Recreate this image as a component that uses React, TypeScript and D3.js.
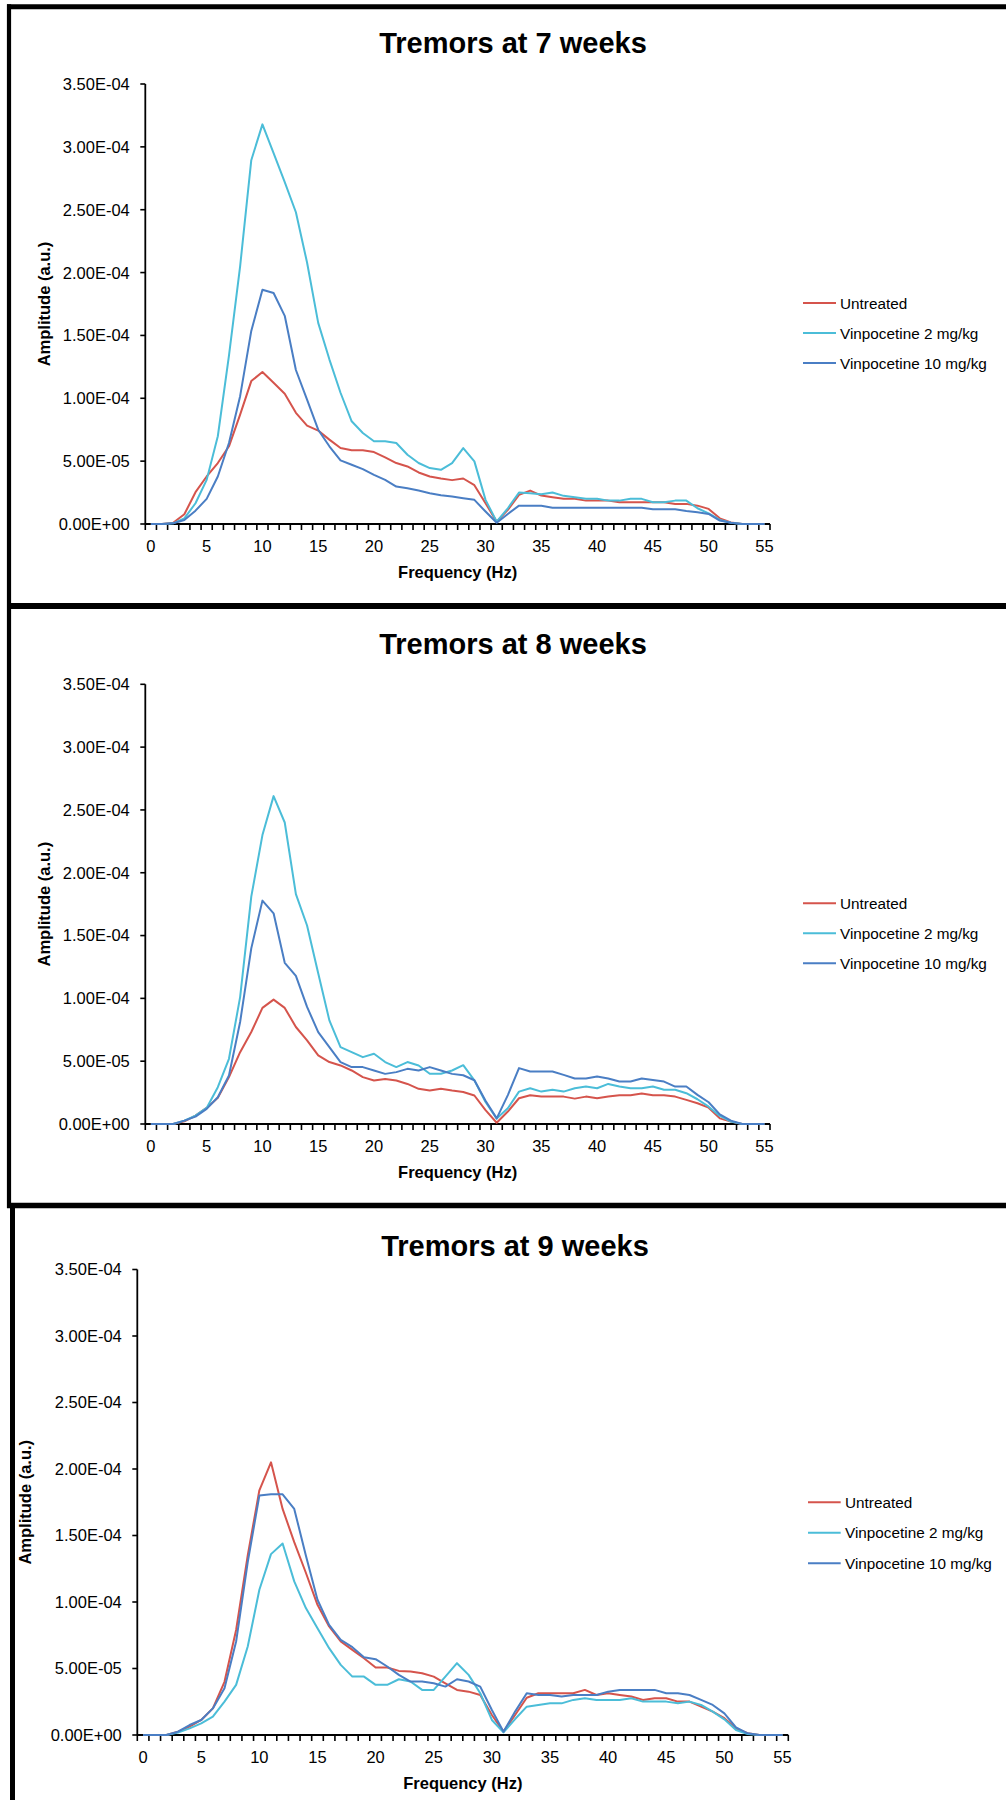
import React from "react";
import * as d3 from "d3";

// Frequencies 0..55 Hz
const freqs: number[] = d3.range(0, 56);
const yTickValues: number[] = [0, 5e-5, 1e-4, 1.5e-4, 2e-4, 2.5e-4, 3e-4, 3.5e-4];
const xLabelValues: number[] = [0, 5, 10, 15, 20, 25, 30, 35, 40, 45, 50, 55];
const seriesNames: string[] = ["Untreated", "Vinpocetine 2 mg/kg", "Vinpocetine 10 mg/kg"];
const titles: string[] = ["Tremors at 7 weeks", "Tremors at 8 weeks", "Tremors at 9 weeks"];

// values in units of 1e-5
const w7Untreated: number[] = [0, 0, 0.1, 0.77, 2.53, 3.78, 4.85, 6.18, 8.7, 11.37, 12.09, 11.24, 10.36, 8.84, 7.83, 7.43, 6.71, 6.04, 5.86, 5.86, 5.72, 5.3, 4.85, 4.58, 4.1, 3.78, 3.62, 3.49, 3.62, 3.09, 1.65, 0.19, 1.12, 2.32, 2.66, 2.26, 2.13, 2.0, 2.0, 1.86, 1.86, 1.86, 1.73, 1.73, 1.73, 1.73, 1.73, 1.6, 1.6, 1.46, 1.2, 0.45, 0.13, 0, 0, 0];
const w7Vin2: number[] = [0, 0, 0.05, 0.45, 1.65, 3.51, 6.98, 13.4, 20.5, 28.94, 31.79, 29.5, 27.2, 24.8, 20.8, 16.0, 13.1, 10.44, 8.17, 7.24, 6.58, 6.58, 6.44, 5.51, 4.85, 4.45, 4.31, 4.85, 6.04, 4.98, 1.92, 0.19, 1.25, 2.5, 2.45, 2.37, 2.5, 2.24, 2.13, 2.0, 2.0, 1.86, 1.86, 2.0, 2.0, 1.73, 1.73, 1.86, 1.86, 1.25, 0.85, 0.32, 0.1, 0, 0, 0];
const w7Vin10: number[] = [0, 0, 0.05, 0.32, 1.06, 2.0, 3.78, 6.44, 10.17, 15.36, 18.63, 18.37, 16.56, 12.25, 9.9, 7.5, 6.18, 5.06, 4.71, 4.37, 3.91, 3.51, 2.98, 2.85, 2.66, 2.45, 2.29, 2.18, 2.05, 1.92, 0.99, 0.1, 0.8, 1.46, 1.46, 1.46, 1.3, 1.3, 1.3, 1.3, 1.3, 1.3, 1.3, 1.3, 1.3, 1.17, 1.17, 1.17, 1.04, 0.93, 0.8, 0.27, 0.1, 0, 0, 0];

const w8Untreated: number[] = [0, 0, 0, 0.21, 0.67, 1.28, 2.08, 3.73, 5.72, 7.32, 9.24, 9.9, 9.24, 7.72, 6.66, 5.46, 4.93, 4.66, 4.26, 3.73, 3.46, 3.59, 3.46, 3.19, 2.8, 2.66, 2.8, 2.66, 2.55, 2.27, 1.1, 0.1, 0.99, 2.05, 2.29, 2.18, 2.18, 2.18, 2.02, 2.18, 2.05, 2.18, 2.29, 2.29, 2.42, 2.29, 2.29, 2.18, 1.92, 1.65, 1.3, 0.45, 0.19, 0, 0, 0];
const w8Vin2: number[] = [0, 0, 0, 0.27, 0.67, 1.28, 2.93, 5.19, 10.1, 18.1, 23.0, 26.1, 24.0, 18.3, 15.8, 12.0, 8.25, 6.12, 5.72, 5.32, 5.59, 4.93, 4.53, 4.93, 4.66, 4.0, 4.0, 4.26, 4.68, 3.48, 1.75, 0.43, 1.25, 2.58, 2.85, 2.58, 2.72, 2.58, 2.85, 2.98, 2.85, 3.19, 2.98, 2.85, 2.85, 2.98, 2.72, 2.72, 2.45, 1.97, 1.38, 0.64, 0.19, 0, 0, 0];
const w8Vin10: number[] = [0, 0, 0, 0.27, 0.59, 1.2, 2.13, 3.86, 8.12, 13.98, 17.78, 16.77, 12.83, 11.79, 9.32, 7.32, 6.12, 4.93, 4.53, 4.53, 4.26, 3.99, 4.13, 4.39, 4.26, 4.53, 4.26, 3.99, 3.88, 3.48, 1.85, 0.45, 2.3, 4.45, 4.18, 4.18, 4.18, 3.91, 3.62, 3.62, 3.78, 3.62, 3.38, 3.38, 3.62, 3.51, 3.38, 2.98, 2.98, 2.32, 1.73, 0.77, 0.27, 0, 0, 0];

const w9Untreated: number[] = [0, 0, 0, 0.25, 0.63, 1.13, 2.0, 4.0, 7.9, 13.5, 18.4, 20.5, 17.0, 14.5, 12.2, 9.79, 8.16, 7.03, 6.4, 5.77, 5.07, 5.07, 4.82, 4.77, 4.64, 4.39, 3.89, 3.39, 3.26, 3.01, 1.5, 0.25, 1.5, 2.8, 3.14, 3.14, 3.14, 3.14, 3.39, 3.01, 3.14, 3.01, 2.89, 2.64, 2.76, 2.76, 2.51, 2.51, 2.13, 1.76, 1.26, 0.5, 0.13, 0, 0, 0];
const w9Vin2: number[] = [0, 0, 0, 0.18, 0.5, 0.88, 1.38, 2.51, 3.77, 6.65, 10.92, 13.6, 14.4, 11.55, 9.54, 8.03, 6.53, 5.27, 4.39, 4.39, 3.77, 3.77, 4.19, 4.02, 3.39, 3.39, 4.39, 5.4, 4.52, 3.14, 1.13, 0.2, 1.2, 2.13, 2.26, 2.38, 2.38, 2.64, 2.76, 2.64, 2.64, 2.64, 2.76, 2.51, 2.51, 2.51, 2.38, 2.51, 2.26, 1.76, 1.18, 0.38, 0.08, 0, 0, 0];
const w9Vin10: number[] = [0, 0, 0, 0.25, 0.75, 1.13, 2.0, 3.51, 7.03, 13.0, 18.0, 18.1, 18.1, 17.0, 13.5, 10.17, 8.28, 7.15, 6.6, 5.85, 5.7, 5.15, 4.52, 4.02, 4.02, 3.89, 3.64, 4.19, 4.02, 3.64, 1.88, 0.25, 1.76, 3.14, 3.01, 3.01, 2.89, 3.01, 3.01, 3.01, 3.26, 3.39, 3.39, 3.39, 3.39, 3.14, 3.14, 3.01, 2.64, 2.26, 1.63, 0.58, 0.13, 0, 0, 0];

const COLORS = ["#D5544C", "#4BBDD8", "#4A7EC4"];
const FONT = "'Liberation Sans', Arial, Helvetica, sans-serif";

function fmtE(v: number): string {
  if (v === 0) return "0.00E+00";
  const [m, e] = v.toExponential(2).split("e");
  const n = parseInt(e, 10);
  return m + "E" + (n < 0 ? "-" : "+") + String(Math.abs(n)).padStart(2, "0");
}

type Layout = {
  xL: number; xR: number; yTop: number; yZero: number;
  titleX: number; titleY: number; yTitleX: number;
  legLineX0: number; legLineX1: number; legTextX: number; legY: number[];
};

function Panel({ title, data, L }: { title: string; data: number[][]; L: Layout }) {
  const x = d3.scaleBand<number>().domain(freqs).range([L.xL, L.xR]).paddingInner(0).paddingOuter(0);
  const bw = x.bandwidth();
  const cx = (f: number) => (x(f) as number) + bw / 2;
  const y = d3.scaleLinear().domain([0, 3.5e-4]).range([L.yZero, L.yTop]);
  const line = d3.line<number>().x((_, i) => cx(freqs[i])).y((d) => y(d * 1e-5));
  const edges = d3.range(0, freqs.length + 1).map((i) => L.xL + i * bw);
  const midY = (L.yTop + L.yZero) / 2;
  const midX = (L.xL + L.xR) / 2;
  return (
    <g fontFamily={FONT}>
      <text x={L.titleX} y={L.titleY} textAnchor="middle" fontWeight="bold" fontSize={29}>{title}</text>
      {/* y axis */}
      <line x1={L.xL} x2={L.xL} y1={L.yTop} y2={L.yZero} stroke="#000" strokeWidth={1.8} />
      {yTickValues.map((t) => (
        <g key={t}>
          <line x1={L.xL - 5} x2={L.xL} y1={y(t)} y2={y(t)} stroke="#000" strokeWidth={1.6} />
          <text x={L.xL - 15.5} y={y(t)} dy="0.36em" textAnchor="end" fontSize={16.5}>{fmtE(t)}</text>
        </g>
      ))}
      {/* x axis */}
      <line x1={L.xL} x2={L.xR} y1={L.yZero} y2={L.yZero} stroke="#000" strokeWidth={1.8} />
      {edges.map((ex, i) => (
        <line key={i} x1={ex} x2={ex} y1={L.yZero} y2={L.yZero + 6} stroke="#000" strokeWidth={1.6} />
      ))}
      {xLabelValues.map((f) => (
        <text key={f} x={cx(f)} y={L.yZero + 22} dy="0.36em" textAnchor="middle" fontSize={16.5}>{f}</text>
      ))}
      <text x={midX} y={L.yZero + 48} dy="0.36em" textAnchor="middle" fontWeight="bold" fontSize={16.5}>Frequency (Hz)</text>
      <text transform={`translate(${L.yTitleX},${midY}) rotate(-90)`} dy="0.36em" textAnchor="middle" fontWeight="bold" fontSize={16.5}>Amplitude (a.u.)</text>
      {/* series */}
      {data.map((s, i) => (
        <path key={i} d={line(s) || ""} fill="none" stroke={COLORS[i]} strokeWidth={2} strokeLinejoin="round" />
      ))}
      {/* legend */}
      {seriesNames.map((n, i) => (
        <g key={n}>
          <line x1={L.legLineX0} x2={L.legLineX1} y1={L.legY[i]} y2={L.legY[i]} stroke={COLORS[i]} strokeWidth={2} />
          <text x={L.legTextX} y={L.legY[i]} dy="0.36em" fontSize={15.3}>{n}</text>
        </g>
      ))}
    </g>
  );
}

const layout1: Layout = { xL: 145.3, xR: 770, yTop: 84, yZero: 524, titleX: 513, titleY: 53, yTitleX: 44, legLineX0: 803, legLineX1: 836, legTextX: 840, legY: [303, 333, 363] };
const layout2: Layout = { xL: 145.3, xR: 770, yTop: 684.3, yZero: 1124, titleX: 513, titleY: 653.5, yTitleX: 44, legLineX0: 803, legLineX1: 836, legTextX: 840, legY: [903.3, 933.3, 963.3] };
const layout3: Layout = { xL: 137.3, xR: 788.3, yTop: 1269.5, yZero: 1735, titleX: 515, titleY: 1256, yTitleX: 25, legLineX0: 808, legLineX1: 840.7, legTextX: 845, legY: [1502.3, 1532.7, 1563.3] };

export default function App() {
  return (
    <div style={{ position: "absolute", left: 0, top: 0 }}>
      <svg width={1006} height={1800} style={{ display: "block", background: "#fff" }}>
        <rect x={0} y={0} width={1006} height={1800} fill="#fff" />
        {/* frames */}
        <line x1={7} x2={1006} y1={6.8} y2={6.8} stroke="#000" strokeWidth={5} />
        <line x1={9} x2={9} y1={4.3} y2={1208} stroke="#000" strokeWidth={4.2} />
        <line x1={7} x2={1006} y1={606} y2={606} stroke="#000" strokeWidth={6} />
        <line x1={7} x2={1006} y1={1205.5} y2={1205.5} stroke="#000" strokeWidth={5.6} />
        <line x1={12.5} x2={12.5} y1={1203} y2={1800} stroke="#000" strokeWidth={5} />
        <Panel title={titles[0]} data={[w7Untreated, w7Vin2, w7Vin10]} L={layout1} />
        <Panel title={titles[1]} data={[w8Untreated, w8Vin2, w8Vin10]} L={layout2} />
        <Panel title={titles[2]} data={[w9Untreated, w9Vin2, w9Vin10]} L={layout3} />
      </svg>
    </div>
  );
}
